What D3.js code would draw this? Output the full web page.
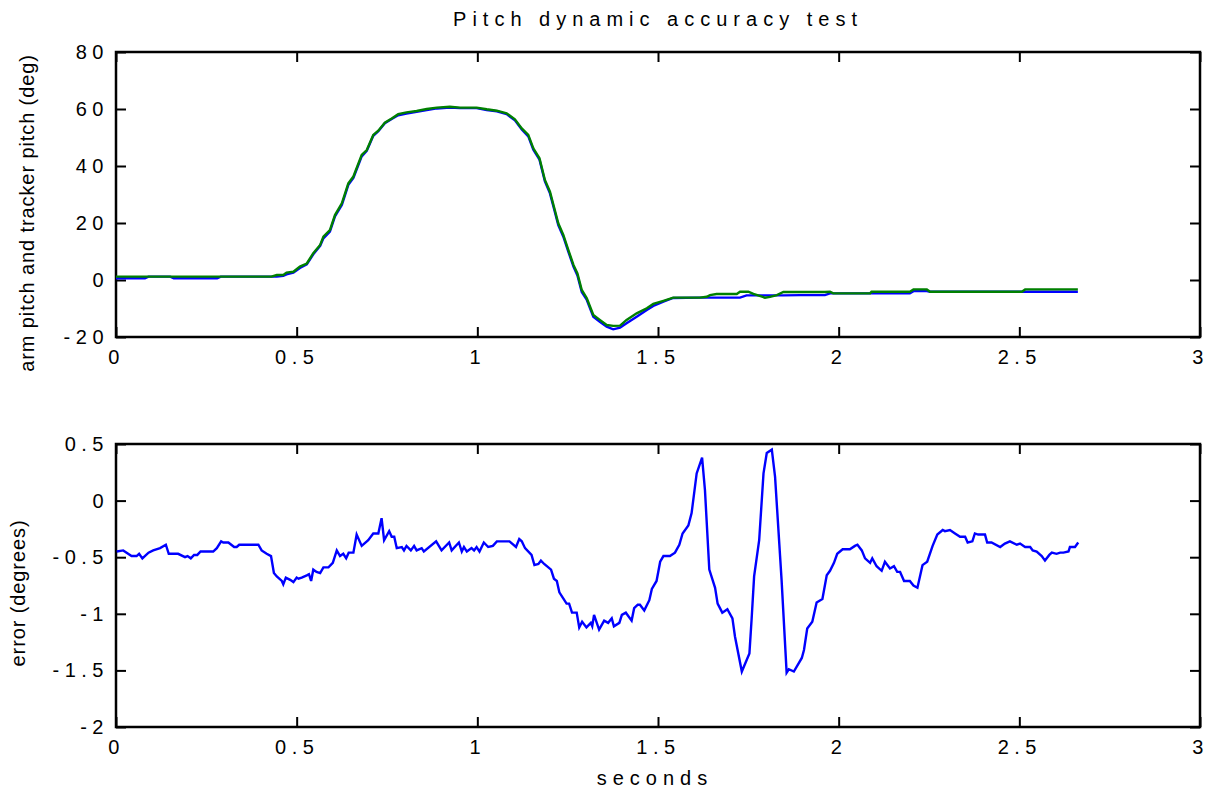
<!DOCTYPE html>
<html>
<head>
<meta charset="utf-8">
<script src="https://cdn.jsdelivr.net/npm/d3@7"></script>
<style>
  body { margin: 0; background: #fff; }
  svg text { font-family: "Liberation Sans", Arial, Helvetica, sans-serif; fill: #000; }
</style>
</head>
<body>
<svg></svg>
<script>
var width = 1211;
var height = 790;

// x ticks shared by both panels
var xTicks = [0, 0.5, 1, 1.5, 2, 2.5, 3];
var pitchTicks = [-20, 0, 20, 40, 60, 80];
var errorTicks = [-2, -1.5, -1, -0.5, 0, 0.5];

// top panel: arm pitch (blue) and tracker pitch (green), seconds / degrees
var pitchTime = [0, 0.08, 0.09, 0.15, 0.16, 0.28, 0.29, 0.43, 0.445, 0.463, 0.472, 0.491, 0.509, 0.528,
  0.546, 0.565, 0.574, 0.592, 0.606, 0.625, 0.643, 0.657, 0.680, 0.694, 0.712, 0.726, 0.744, 0.763,
  0.781, 0.804, 0.832, 0.860, 0.888, 0.924, 0.952, 0.998, 1.026, 1.054, 1.081, 1.104, 1.123, 1.141,
  1.155, 1.172, 1.187, 1.201, 1.212, 1.224, 1.238, 1.252, 1.266, 1.277, 1.289, 1.303, 1.321, 1.339,
  1.358, 1.376, 1.395, 1.413, 1.441, 1.469, 1.487, 1.515, 1.542, 1.616, 1.635, 1.644, 1.662, 1.718,
  1.727, 1.745, 1.750, 1.764, 1.796, 1.810, 1.829, 1.847, 1.893, 1.962, 1.976, 1.985, 2.087, 2.091,
  2.197, 2.207, 2.244, 2.253, 2.507, 2.516, 2.662];

var armPitch = [0.6, 0.6, 1.2, 1.2, 0.6, 0.6, 1.2, 1.2, 1.2, 1.5, 2.0, 2.6, 4.2, 5.5,
  9.0, 12.0, 14.6, 17.0, 22.3, 26.3, 33.4, 35.8, 43.4, 45.3, 50.6, 52.2, 55.0, 56.5,
  57.8, 58.4, 59.0, 59.6, 60.2, 60.5, 60.3, 60.3, 59.6, 59.2, 58.2, 56.0, 52.8, 50.4,
  45.7, 42.2, 34.6, 30.4, 25.1, 19.3, 15.2, 9.9, 4.7, 1.6, -4.2, -7.0, -12.9, -14.7,
  -16.4, -17.3, -16.7, -15.2, -12.9, -10.5, -9.1, -7.6, -6.3, -6.2, -6.2, -6.2, -6.2, -6.2,
  -6.2, -5.4, -5.4, -5.4, -5.4, -5.4, -5.4, -5.4, -5.3, -5.3, -4.7, -4.7, -4.7, -4.7,
  -4.7, -3.9, -3.9, -4.1, -4.1, -4.1, -4.1];

var trackerPitch = [1.2, 1.2, 1.2, 1.2, 1.2, 1.2, 1.2, 1.2, 1.75, 1.75, 2.6, 2.9, 4.7, 5.8,
  9.4, 12.3, 15.2, 17.5, 22.8, 26.9, 33.9, 36.3, 43.9, 45.6, 50.9, 52.4, 55.2, 56.7,
  58.2, 58.8, 59.3, 60.0, 60.5, 60.8, 60.5, 60.5, 59.9, 59.4, 58.5, 56.4, 53.2, 50.9,
  46.2, 42.7, 35.1, 31.0, 25.7, 19.9, 15.8, 10.5, 5.3, 2.3, -3.5, -6.4, -12.3, -14.0,
  -15.8, -16.1, -16.0, -14.0, -11.7, -9.9, -8.4, -7.3, -6.2, -6.2, -5.9, -5.3, -4.9, -4.9,
  -4.1, -4.1, -4.1, -4.9, -6.2, -5.9, -5.3, -4.2, -4.2, -4.2, -4.1, -4.7, -4.7, -4.1,
  -4.1, -3.3, -3.3, -4.1, -4.1, -3.3, -3.3];

// bottom panel: error in degrees
var errorTime = [0.002, 0.02, 0.043, 0.057, 0.064, 0.073, 0.09, 0.103, 0.122, 0.138, 0.146, 0.172,
  0.191, 0.198, 0.207, 0.216, 0.225, 0.234, 0.269, 0.279, 0.291, 0.297, 0.311, 0.327, 0.334, 0.341,
  0.394, 0.403, 0.417, 0.429, 0.437, 0.445, 0.459, 0.463, 0.470, 0.482, 0.491, 0.500, 0.505, 0.514,
  0.528, 0.534, 0.540, 0.546, 0.555, 0.565, 0.574, 0.588, 0.600, 0.611, 0.620, 0.629, 0.637, 0.644,
  0.657, 0.666, 0.680, 0.698, 0.712, 0.726, 0.735, 0.742, 0.756, 0.763, 0.770, 0.777, 0.791, 0.797,
  0.804, 0.816, 0.825, 0.832, 0.846, 0.852, 0.886, 0.901, 0.922, 0.929, 0.949, 0.957, 0.963, 0.971,
  0.984, 0.991, 0.998, 1.006, 1.018, 1.030, 1.043, 1.054, 1.089, 1.107, 1.116, 1.123, 1.132, 1.150,
  1.158, 1.169, 1.176, 1.185, 1.204, 1.212, 1.220, 1.227, 1.247, 1.254, 1.262, 1.275, 1.282, 1.290,
  1.302, 1.314, 1.318, 1.323, 1.337, 1.351, 1.362, 1.372, 1.378, 1.393, 1.400, 1.411, 1.427, 1.434,
  1.444, 1.450, 1.462, 1.476, 1.483, 1.496, 1.506, 1.515, 1.533, 1.547, 1.559, 1.568, 1.584, 1.593,
  1.607, 1.622, 1.630, 1.642, 1.658, 1.665, 1.678, 1.692, 1.706, 1.713, 1.732, 1.753, 1.759, 1.766,
  1.780, 1.792, 1.801, 1.815, 1.824, 1.842, 1.856, 1.862, 1.876, 1.898, 1.904, 1.913, 1.927, 1.939,
  1.955, 1.967, 1.976, 1.987, 1.996, 2.011, 2.031, 2.045, 2.052, 2.064, 2.073, 2.087, 2.093, 2.105,
  2.119, 2.128, 2.142, 2.153, 2.162, 2.170, 2.181, 2.197, 2.207, 2.218, 2.232, 2.245, 2.260, 2.273,
  2.288, 2.294, 2.308, 2.322, 2.336, 2.350, 2.357, 2.370, 2.377, 2.386, 2.405, 2.411, 2.423, 2.447,
  2.460, 2.474, 2.493, 2.502, 2.516, 2.530, 2.537, 2.548, 2.562, 2.571, 2.583, 2.590, 2.603, 2.613,
  2.622, 2.636, 2.640, 2.654, 2.663];

var errorValue = [-0.45, -0.44, -0.49, -0.49, -0.47, -0.51, -0.46, -0.44, -0.42, -0.39, -0.47, -0.47,
  -0.50, -0.49, -0.51, -0.48, -0.48, -0.45, -0.45, -0.42, -0.36, -0.37, -0.37, -0.41, -0.41, -0.39,
  -0.39, -0.44, -0.47, -0.49, -0.64, -0.67, -0.71, -0.74, -0.68, -0.70, -0.72, -0.68, -0.69, -0.68,
  -0.66, -0.65, -0.71, -0.61, -0.63, -0.64, -0.59, -0.59, -0.55, -0.44, -0.49, -0.47, -0.51, -0.46,
  -0.46, -0.30, -0.40, -0.35, -0.29, -0.29, -0.155, -0.35, -0.27, -0.32, -0.32, -0.42, -0.41, -0.44,
  -0.40, -0.44, -0.40, -0.44, -0.42, -0.45, -0.36, -0.44, -0.37, -0.44, -0.37, -0.45, -0.41, -0.45,
  -0.42, -0.44, -0.41, -0.45, -0.37, -0.41, -0.40, -0.36, -0.36, -0.41, -0.34, -0.36, -0.42, -0.48,
  -0.57, -0.56, -0.53, -0.56, -0.61, -0.69, -0.71, -0.81, -0.91, -0.91, -0.99, -0.99, -1.12, -1.07,
  -1.12, -1.08, -1.11, -1.01, -1.14, -1.06, -1.08, -1.04, -1.11, -1.08, -1.01, -0.99, -1.06, -0.95,
  -0.92, -0.92, -0.97, -0.88, -0.78, -0.71, -0.54, -0.49, -0.49, -0.46, -0.39, -0.29, -0.22, -0.11,
  0.24, 0.38, 0.09, -0.61, -0.77, -0.91, -0.99, -0.96, -1.04, -1.20, -1.51, -1.35, -1.05, -0.67,
  -0.35, 0.24, 0.42, 0.45, 0.21, -0.70, -1.52, -1.49, -1.51, -1.39, -1.32, -1.13, -1.07, -0.90,
  -0.87, -0.66, -0.62, -0.55, -0.47, -0.43, -0.43, -0.40, -0.39, -0.44, -0.51, -0.55, -0.51, -0.58,
  -0.62, -0.54, -0.60, -0.58, -0.63, -0.63, -0.71, -0.71, -0.75, -0.77, -0.57, -0.54, -0.40, -0.30,
  -0.26, -0.27, -0.26, -0.29, -0.32, -0.32, -0.37, -0.36, -0.29, -0.30, -0.30, -0.37, -0.37, -0.41,
  -0.38, -0.36, -0.39, -0.38, -0.41, -0.41, -0.44, -0.45, -0.49, -0.53, -0.48, -0.46, -0.47, -0.46,
  -0.46, -0.45, -0.41, -0.41, -0.37];

var svg = d3.select('svg')
  .attr('width', width)
  .attr('height', height);

var left = 116, right = 1200;

var x = d3.scaleLinear().domain([0, 3]).range([left, right]);
var yTop = d3.scaleLinear().domain([-20, 80]).range([337, 52]);
var yBot = d3.scaleLinear().domain([-2, 0.5]).range([727, 444]);

var tickSpacing = 5.5;

function drawPanel(y, yTicks) {
  var top = y.range()[1], bottom = y.range()[0];
  var g = svg.append('g');

  // ticks point inward on all four sides
  var xb = g.append('g')
    .attr('transform', 'translate(0,' + bottom + ')')
    .call(d3.axisBottom(x).tickValues(xTicks).tickSizeInner(-10).tickSizeOuter(0)
      .tickPadding(13).tickFormat(d => String(d)));
  var xt = g.append('g')
    .attr('transform', 'translate(0,' + top + ')')
    .call(d3.axisTop(x).tickValues(xTicks).tickSizeInner(-10).tickSizeOuter(0).tickFormat(''));
  var yl = g.append('g')
    .attr('transform', 'translate(' + left + ',0)')
    .call(d3.axisLeft(y).tickValues(yTicks).tickSizeInner(-10).tickSizeOuter(0)
      .tickPadding(7).tickFormat(d => String(d)));
  var yr = g.append('g')
    .attr('transform', 'translate(' + right + ',0)')
    .call(d3.axisRight(y).tickValues(yTicks).tickSizeInner(-10).tickSizeOuter(0).tickFormat(''));

  [xb, xt, yl, yr].forEach(function(a) {
    a.select('.domain').remove();
    a.selectAll('.tick line').attr('stroke', '#000').attr('stroke-width', 2);
    a.selectAll('.tick text')
      .attr('font-size', 20)
      .attr('font-family', null)
      .style('letter-spacing', tickSpacing + 'px');
  });

  g.append('rect')
    .attr('x', left)
    .attr('y', top)
    .attr('width', right - left)
    .attr('height', bottom - top)
    .attr('fill', 'none')
    .attr('stroke', '#000')
    .attr('stroke-width', 2.5);

  return g;
}

var topPanel = drawPanel(yTop, pitchTicks);
var botPanel = drawPanel(yBot, errorTicks);

var pitchLine = d3.line().x(d => x(d[0])).y(d => yTop(d[1]));
var errorLine = d3.line().x(d => x(d[0])).y(d => yBot(d[1]));

topPanel.append('path')
  .datum(d3.zip(pitchTime, armPitch))
  .attr('d', pitchLine)
  .attr('fill', 'none')
  .attr('stroke', '#0000ff')
  .attr('stroke-width', 2.4);

topPanel.append('path')
  .datum(d3.zip(pitchTime, trackerPitch))
  .attr('d', pitchLine)
  .attr('fill', 'none')
  .attr('stroke', '#008000')
  .attr('stroke-width', 2.4);

botPanel.append('path')
  .datum(d3.zip(errorTime, errorValue))
  .attr('d', errorLine)
  .attr('fill', 'none')
  .attr('stroke', '#0000ff')
  .attr('stroke-width', 2.4);

// titles and axis labels
svg.append('text')
  .attr('x', 658)
  .attr('y', 26)
  .attr('text-anchor', 'middle')
  .attr('font-size', 20)
  .style('letter-spacing', '6px')
  .text('Pitch dynamic accuracy test');

svg.append('text')
  .attr('x', 655)
  .attr('y', 785)
  .attr('text-anchor', 'middle')
  .attr('font-size', 20)
  .style('letter-spacing', '6px')
  .text('seconds');

svg.append('text')
  .attr('transform', 'translate(34,213) rotate(-90)')
  .attr('text-anchor', 'middle')
  .attr('font-size', 20)
  .style('letter-spacing', '0.9px')
  .text('arm pitch and tracker pitch (deg)');

svg.append('text')
  .attr('transform', 'translate(25,593) rotate(-90)')
  .attr('text-anchor', 'middle')
  .attr('font-size', 20)
  .style('letter-spacing', '0.9px')
  .text('error (degrees)');
</script>
</body>
</html>
